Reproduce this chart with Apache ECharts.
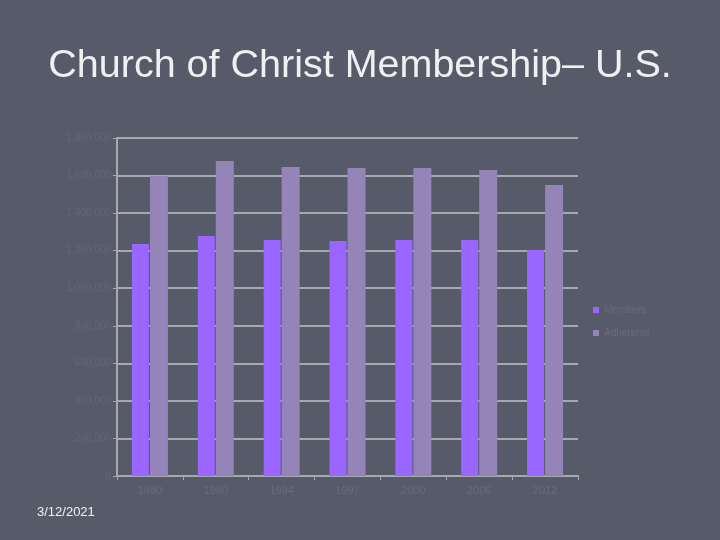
<!DOCTYPE html>
<html>
<head>
<meta charset="utf-8">
<script src="https://cdn.jsdelivr.net/npm/echarts@6/dist/echarts.min.js"></script>
<style>
html,body{margin:0;padding:0;background:#575a69;}
#c{width:720px;height:540px;}
</style>
</head>
<body>
<div id="c"></div>
<script>
const categories = ['1980','1990','1994','1997','2000','2006','2012'];
const members = [1236000, 1278000, 1257000, 1252000, 1257000, 1257000, 1204000];
const adherents = [1598000, 1678000, 1646000, 1640000, 1640000, 1630000, 1550000];
const seriesNames = ['Members', 'Adherents'];

const chart = echarts.init(document.getElementById('c'));
chart.setOption({
  backgroundColor: '#575a69',
  animation: false,
  title: [{
    text: 'Church of Christ Membership\u2013 U.S.',
    left: 'center', top: 41,
    textStyle: {color: '#f0f0f2', fontSize: 39.5, fontWeight: 'normal', fontFamily: 'Liberation Sans, Arial, sans-serif'}
  }, {
    text: '3/12/2021',
    left: 32, top: 501,
    textStyle: {color: '#f0f0f2', fontSize: 13, fontWeight: 'normal', fontFamily: 'Liberation Sans, Arial, sans-serif'}
  }],
  legend: {
    orient: 'vertical', left: 588, top: 300,
    itemWidth: 6, itemHeight: 6, itemGap: 13,
    icon: 'rect',
    textStyle: {color: '#686b7b', fontSize: 10},
    data: seriesNames
  },
  grid: {left: 117, right: 142, top: 138, bottom: 64, containLabel: false},
  xAxis: {
    type: 'category', data: categories,
    axisLine: {lineStyle: {color: '#a8a8b0', width: 2}},
    axisTick: {show: true, lineStyle: {color: '#a8a8b0'}, length: 4},
    axisLabel: {color: '#686b7b', fontSize: 11, margin: 9}
  },
  yAxis: {
    type: 'value', min: 0, max: 1800000, interval: 200000,
    axisLine: {show: true, lineStyle: {color: '#a8a8b0', width: 2}},
    axisTick: {show: true, lineStyle: {color: '#a8a8b0'}, length: 4},
    splitLine: {lineStyle: {color: '#a8a8b0', width: 2}},
    axisLabel: {color: '#636676', fontSize: 10, margin: 6}
  },
  series: [{
    name: seriesNames[0], type: 'bar', data: members,
    itemStyle: {color: '#9966ff'},
    barWidth: 17, barGap: '6%', barCategoryGap: '46%'
  }, {
    name: seriesNames[1], type: 'bar', data: adherents,
    itemStyle: {color: '#9484b8'},
    barWidth: 18
  }]
});
</script>
</body>
</html>
